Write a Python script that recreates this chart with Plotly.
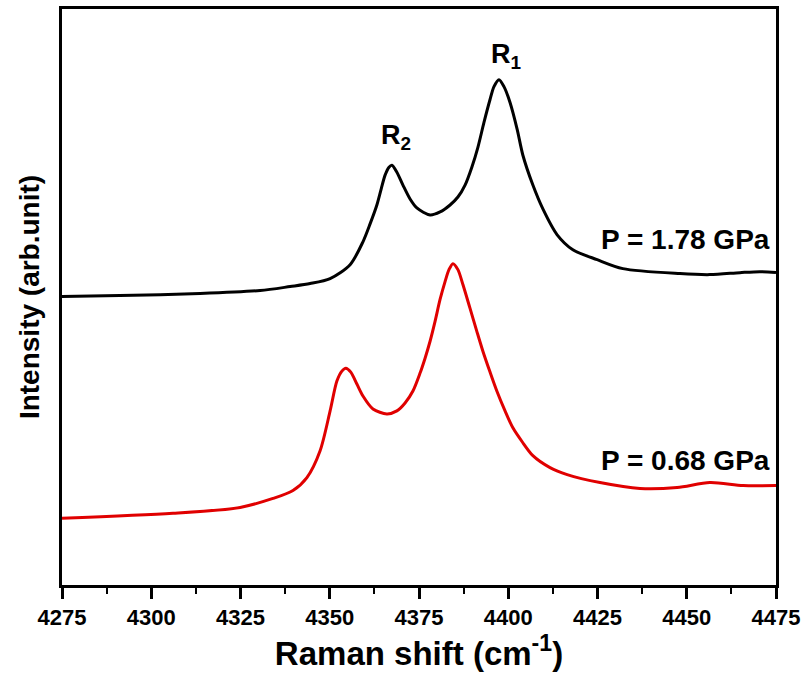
import plotly.graph_objects as go

# Raman shift (cm^-1) and intensity (arb. units)
shift_178 = [4275, 4291.2, 4313.7, 4330.5, 4338.9, 4344.5, 4350.1, 4355.7, 4359.3,
             4361.3, 4363.2, 4364.4, 4365.5, 4366.6, 4367.4, 4368.8, 4370.5, 4372.5,
             4374.4, 4378.1, 4380.9, 4383.7, 4385.9, 4387.9, 4389.8, 4391.5, 4393.2,
             4394.9, 4396.0, 4397.4, 4398.8, 4400.5, 4402.5, 4404.1, 4406.9, 4409.7,
             4413.7, 4418.1, 4424.9, 4432.1, 4448.1, 4456.5, 4464.9, 4470.5, 4475]
int_178 = [300, 301, 303, 306, 310, 313, 318, 332, 355,
           373, 392, 408, 422, 430, 432, 425, 412, 398,
           389, 382, 385, 392, 400, 412, 430, 450, 475,
           498, 511, 518, 511, 495, 468, 442, 412, 388,
           362, 347, 337, 328, 323, 322, 324, 325, 324]

shift_068 = [4275, 4306.1, 4324.9, 4334.1, 4339.7, 4343.6, 4347.3, 4350.1, 4352.0,
             4353.4, 4354.5, 4355.9, 4357.6, 4359.3, 4362.1, 4366.0, 4368.8, 4371.1,
             4373.3, 4375.3, 4376.7, 4378.1, 4379.5, 4380.9, 4382.3, 4383.4, 4384.5,
             4385.9, 4387.3, 4389.3, 4391.2, 4392.9, 4394.9, 4396.8, 4399.1, 4401.3,
             4403.9, 4406.9, 4411.7, 4416.5, 4425.7, 4436.9, 4447.3, 4456.5, 4465.8,
             4475]
int_068 = [77, 82, 88, 97, 105, 118, 145, 185, 215,
           225, 228, 224, 212, 200, 187, 182, 185, 193,
           205, 223, 238, 255, 275, 297, 315, 327, 333,
           327, 312, 288, 265, 245, 224, 205, 185, 168,
           154, 140, 128, 121, 113, 107, 108, 113, 110,
           110]

x_ticks = [4275, 4300, 4325, 4350, 4375, 4400, 4425, 4450, 4475]
labels = ["P = 1.78 GPa", "P = 0.68 GPa"]

arial = "Liberation Sans, Arial, sans-serif"

fig = go.Figure()
fig.add_trace(go.Scatter(x=shift_178, y=int_178, mode="lines",
                         line=dict(color="#000000", width=3, shape="spline", smoothing=0.8),
                         showlegend=False, hoverinfo="skip"))
fig.add_trace(go.Scatter(x=shift_068, y=int_068, mode="lines",
                         line=dict(color="#e00000", width=3, shape="spline", smoothing=0.8),
                         showlegend=False, hoverinfo="skip"))

fig.add_annotation(x=4474, y=357, text="<b>" + labels[0] + "</b>", showarrow=False,
                   xanchor="right", yanchor="middle",
                   font=dict(family=arial, size=28, color="#000"))
fig.add_annotation(x=4474, y=135, text="<b>" + labels[1] + "</b>", showarrow=False,
                   xanchor="right", yanchor="middle",
                   font=dict(family=arial, size=28, color="#000"))
fig.add_annotation(x=4399.5, y=542, text="<b>R<sub>1</sub></b>", showarrow=False,
                   xanchor="center", yanchor="middle",
                   font=dict(family=arial, size=27, color="#000"))
fig.add_annotation(x=4368.5, y=460, text="<b>R<sub>2</sub></b>", showarrow=False,
                   xanchor="center", yanchor="middle",
                   font=dict(family=arial, size=27, color="#000"))

fig.update_layout(
    width=811, height=685,
    margin=dict(l=62, r=35, t=6, b=100),
    plot_bgcolor="white", paper_bgcolor="white",
    font=dict(family="Liberation Sans", color="black"),
    xaxis=dict(range=[4275, 4475], tickmode="array", tickvals=x_ticks,
               ticktext=["<b>%d</b>" % v for v in x_ticks],
               showline=True, linecolor="black", linewidth=3, mirror=True,
               ticks="outside", ticklen=11, tickwidth=3, tickcolor="black",
               minor=dict(ticks="outside", ticklen=6, tickwidth=2, tickcolor="black",
                          dtick=12.5, tick0=4275),
               showgrid=False, zeroline=False, tickangle=0,
               tickfont=dict(family=arial, size=22, color="black"),
               title=dict(text="<b>Raman shift (cm<sup>-1</sup>)</b>", standoff=8,
                          font=dict(family=arial, size=33, color="black"))),
    yaxis=dict(range=[10, 589], showticklabels=False, ticks="",
               showline=True, linecolor="black", linewidth=3, mirror=True,
               showgrid=False, zeroline=False,
               title=dict(text="<b>Intensity (arb.unit)</b>", standoff=12,
                          font=dict(family=arial, size=28, color="black"))),
)

fig.write_html("out.html")
